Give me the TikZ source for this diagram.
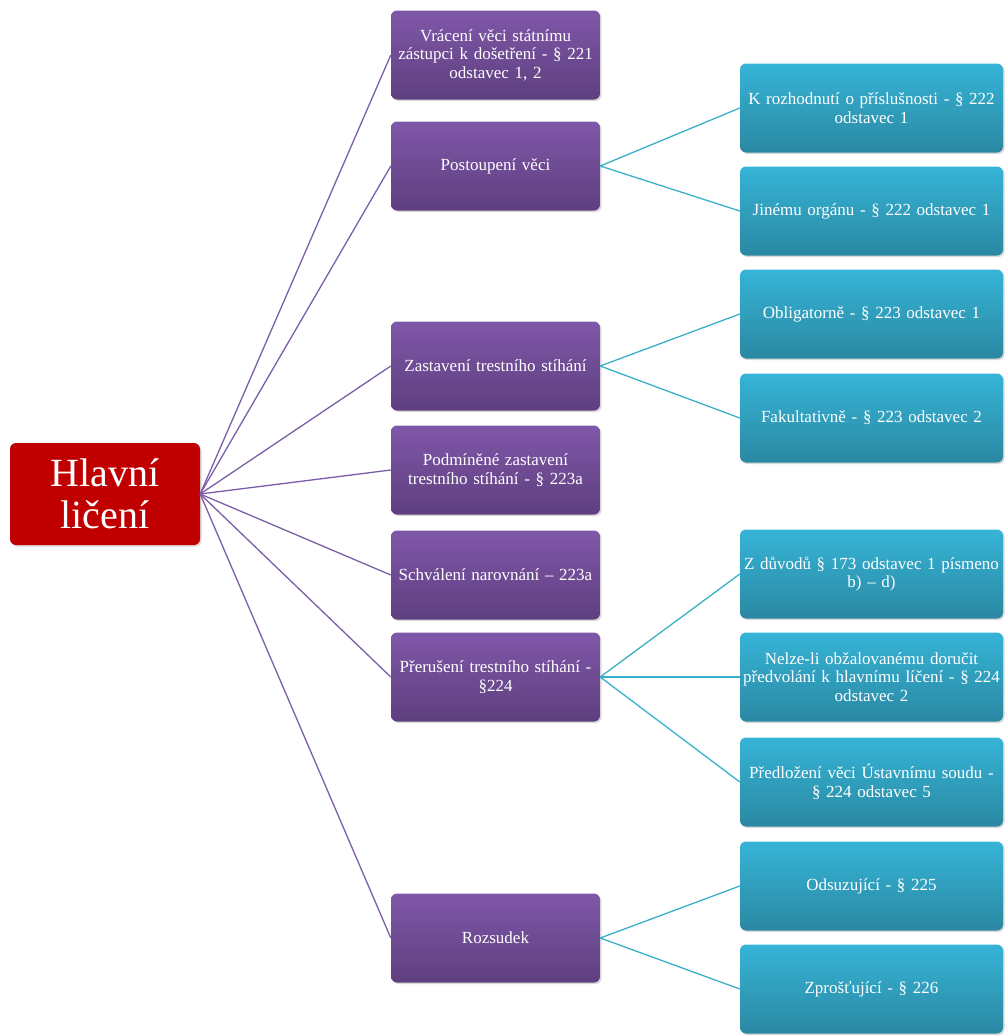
\documentclass[tikz,border=0pt]{standalone}
\usepackage{fontspec}
\setmainfont{Liberation Serif}
\usetikzlibrary{shadows}
\definecolor{purpT}{HTML}{7F57A9}
\definecolor{purpB}{HTML}{5E3F7E}
\definecolor{blueT}{HTML}{36B4D7}
\definecolor{blueB}{HTML}{2A88A2}
\definecolor{rootR}{HTML}{C00000}
\definecolor{purpLine}{HTML}{7B5EA7}
\definecolor{blueLine}{HTML}{3AAFC9}
\tikzset{
  boxbase/.style={rounded corners=6pt, inner sep=1pt, align=center, text=white,
    font=\fontsize{17}{18.5}\selectfont,
    drop shadow={shadow xshift=1.5pt, shadow yshift=-1.5pt, opacity=0.25, fill=black!60}},
  purplebox/.style={boxbase, top color=purpT, bottom color=purpB,
    minimum width=209pt, minimum height=89pt, text width=207pt},
  bluebox/.style={boxbase, top color=blueT, bottom color=blueB,
    minimum width=263pt, minimum height=89pt, text width=261pt},
  rootbox/.style={boxbase, fill=rootR, minimum width=190pt, minimum height=102pt,
    text width=186pt, font=\fontsize{40}{42}\selectfont},
  plink/.style={draw=purpLine, line width=1.3pt},
  blink/.style={draw=blueLine, line width=1.3pt}
}
\begin{document}
\begin{tikzpicture}[x=1pt,y=-1pt]
\useasboundingbox (0,0) rectangle (1004,1036);
\node[rootbox] (root) at (105,494) {Hlavní\\ličení};
\node[purplebox] (p1) at (495.5,55) {Vrácení věci státnímu\\zástupci k došetření - § 221\\odstavec 1, 2};
\node[purplebox] (p2) at (495.5,166) {Postoupení věci};
\node[purplebox] (p3) at (495.5,366) {Zastavení trestního stíhání};
\node[purplebox] (p4) at (495.5,470) {Podmíněné zastavení\\trestního stíhání - § 223a};
\node[purplebox] (p5) at (495.5,575) {Schválení narovnání – 223a};
\node[purplebox] (p6) at (495.5,677) {Přerušení trestního stíhání -\\§224};
\node[purplebox] (p7) at (495.5,938) {Rozsudek};
\node[bluebox] (b1) at (871.5,108) {K rozhodnutí o příslušnosti - § 222\\odstavec 1};
\node[bluebox] (b2) at (871.5,211) {Jinému orgánu - § 222 odstavec 1};
\node[bluebox] (b3) at (871.5,314) {Obligatorně - § 223 odstavec 1};
\node[bluebox] (b4) at (871.5,418) {Fakultativně - § 223 odstavec 2};
\node[bluebox] (b5) at (871.5,574) {Z důvodů § 173 odstavec 1 písmeno\\b) – d)};
\node[bluebox] (b6) at (871.5,677) {Nelze-li obžalovanému doručit\\předvolání k hlavnímu líčení - § 224\\odstavec 2};
\node[bluebox] (b7) at (871.5,782) {Předložení věci Ústavnímu soudu -\\§ 224 odstavec 5};
\node[bluebox] (b8) at (871.5,886) {Odsuzující - § 225};
\node[bluebox] (b9) at (871.5,989) {Zprošťující - § 226};
\foreach \p in {p1,p2,p3,p4,p5,p6,p7}
  \draw[plink] (root.east) -- (\p.west);
\draw[blink] (p2.east) -- (b1.west);
\draw[blink] (p2.east) -- (b2.west);
\draw[blink] (p3.east) -- (b3.west);
\draw[blink] (p3.east) -- (b4.west);
\draw[blink] (p6.east) -- (b5.west);
\draw[blink] (p6.east) -- (b6.west);
\draw[blink] (p6.east) -- (b7.west);
\draw[blink] (p7.east) -- (b8.west);
\draw[blink] (p7.east) -- (b9.west);
\end{tikzpicture}
\end{document}
